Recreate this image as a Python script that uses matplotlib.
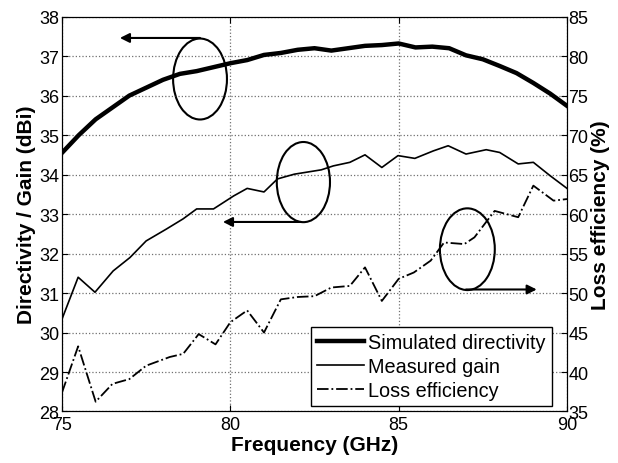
import matplotlib
matplotlib.use('Agg')
import matplotlib.pyplot as plt
from matplotlib.patches import Ellipse

plt.rcParams['font.family'] = ['Liberation Sans', 'DejaVu Sans']

# Simulated directivity (dBi)
sim_freq = [75, 75.5, 76, 76.5, 77, 77.5, 78, 78.5, 79, 79.5, 80, 80.5, 81, 81.5, 82, 82.5,
            83, 83.5, 84, 84.5, 85, 85.5, 86, 86.5, 87, 87.5, 88, 88.5, 89, 89.5, 90]
sim_dir = [34.55, 35.0, 35.4, 35.7, 36.0, 36.2, 36.4, 36.55, 36.62, 36.72, 36.82, 36.9, 37.03, 37.08, 37.16, 37.2,
           37.14, 37.2, 37.26, 37.28, 37.32, 37.22, 37.24, 37.2, 37.02, 36.92, 36.75, 36.57, 36.32, 36.05, 35.74]

# Measured gain (dBi)
gain_freq = [75, 75.48, 75.98, 76.52, 77.02, 77.5, 78.1, 78.6, 79.0, 79.5, 80.1, 80.5, 81.0, 81.4, 81.9, 82.7,
             83.06, 83.55, 84.0, 84.5, 84.98, 85.48, 86.03, 86.47, 87.0, 87.6, 88.0, 88.55, 89.0, 89.5, 90]
gain = [30.34, 31.4, 31.02, 31.56, 31.9, 32.32, 32.62, 32.88, 33.13, 33.13, 33.46, 33.65, 33.56, 33.89, 34.01, 34.12,
        34.22, 34.31, 34.5, 34.18, 34.48, 34.41, 34.6, 34.73, 34.52, 34.63, 34.56, 34.27, 34.31, 33.97, 33.65]

# Loss efficiency (%)
loss_freq = [75, 75.48, 76.0, 76.5, 77.0, 77.5, 78.2, 78.6, 79.06, 79.56, 80.0, 80.5, 81.0, 81.5, 82.0, 82.5,
             83.0, 83.55, 84.0, 84.5, 85.0, 85.45, 85.95, 86.35, 86.95, 87.25, 87.85, 88.55, 89.0, 89.6, 90]
loss = [37.4, 43.25, 36.24, 38.5, 39.1, 40.8, 41.9, 42.3, 44.8, 43.5, 46.3, 47.8, 45.0, 49.2, 49.5, 49.6,
        50.7, 50.9, 53.25, 49.0, 51.8, 52.6, 54.1, 56.4, 56.2, 57.05, 60.4, 59.6, 63.6, 61.7, 61.9]

fig = plt.figure(figsize=(6.18, 4.64), dpi=100)
ax = fig.add_axes([0.1003, 0.111, 0.8172, 0.851])
ax2 = ax.twinx()

l1, = ax.plot(sim_freq, sim_dir, color='k', lw=3.2, label='Simulated directivity')
l2, = ax.plot(gain_freq, gain, color='k', lw=1.2, label='Measured gain')
l3, = ax2.plot(loss_freq, loss, color='k', lw=1.3, linestyle='-.', label='Loss efficiency')

ax.set_xlim(75, 90)
ax.set_ylim(28, 38)
ax2.set_ylim(35, 85)
ax.set_xticks([75, 80, 85, 90])
ax.set_yticks(range(28, 39))
ax2.set_yticks(range(35, 86, 5))

ax.grid(True, linestyle=':', color='#333333', lw=0.9, alpha=0.7)
ax.tick_params(direction='in', labelsize=13, top=True, length=4)
ax2.tick_params(direction='in', labelsize=13, length=4, pad=1)
ax.tick_params(axis='y', pad=2)

ax.set_xlabel('Frequency (GHz)', fontsize=15, fontweight='bold', labelpad=1)
ax.set_ylabel('Directivity / Gain (dBi)', fontsize=15, fontweight='bold', labelpad=2)
ax2.set_ylabel('Loss efficiency (%)', fontsize=15, fontweight='bold', labelpad=2)

# ellipses with arrows pointing to the relevant axis
ax.add_patch(Ellipse((79.1, 36.42), 1.6, 2.05, fill=False, lw=1.5, color='k'))
ax.annotate('', xy=(76.72, 37.46), xytext=(79.1, 37.46),
            arrowprops=dict(arrowstyle='-|>', lw=1.5, color='k', mutation_scale=14, shrinkA=0, shrinkB=0))
ax.add_patch(Ellipse((82.17, 33.81), 1.58, 2.03, fill=False, lw=1.5, color='k'))
ax.annotate('', xy=(79.78, 32.8), xytext=(82.1, 32.8),
            arrowprops=dict(arrowstyle='-|>', lw=1.5, color='k', mutation_scale=14, shrinkA=0, shrinkB=0))
ax.add_patch(Ellipse((87.04, 32.11), 1.63, 2.07, fill=False, lw=1.5, color='k'))
ax.annotate('', xy=(89.1, 31.09), xytext=(87.0, 31.09),
            arrowprops=dict(arrowstyle='-|>', lw=1.5, color='k', mutation_scale=14, shrinkA=0, shrinkB=0))

leg = ax2.legend(handles=[l1, l2, l3], loc='lower right', bbox_to_anchor=(0.97, 0.014),
                 fontsize=14.3, fancybox=False, edgecolor='k', framealpha=1,
                 handlelength=2.4, handletextpad=0.2, borderpad=0.3, labelspacing=0.25, borderaxespad=0)
leg.get_frame().set_linewidth(1.0)

plt.savefig('out.png', dpi=100)
